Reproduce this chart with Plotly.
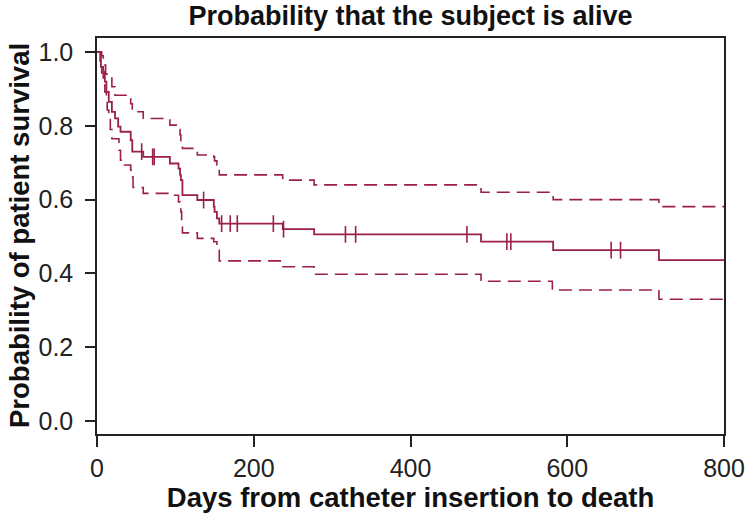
import plotly.graph_objects as go

# Kaplan-Meier estimate (step function)
km_days = [0, 5, 8, 10, 12, 15, 19, 23, 27, 30, 43, 45, 59, 93, 104, 106, 107, 109,
           128, 149, 150, 153, 156, 237, 277, 490, 582, 717, 800]
km_surv = [1.0, 0.96, 0.947, 0.92, 0.892, 0.865, 0.838, 0.82, 0.798, 0.784, 0.761, 0.73,
           0.716, 0.698, 0.684, 0.667, 0.653, 0.612, 0.599, 0.581, 0.567, 0.549, 0.535,
           0.520, 0.506, 0.486, 0.463, 0.436, 0.436]

# Upper confidence limit
up_days = [0, 6, 8, 11, 19, 23, 43, 45, 59, 93, 104, 106, 107, 109, 128, 149, 150, 153,
           156, 237, 277, 490, 582, 717, 800]
up_surv = [1.0, 0.99, 0.965, 0.94, 0.906, 0.883, 0.86, 0.838, 0.82, 0.802, 0.79, 0.775,
           0.76, 0.739, 0.721, 0.716, 0.705, 0.694, 0.667, 0.653, 0.640, 0.620, 0.600,
           0.581, 0.581]

# Lower confidence limit
lo_days = [0, 4, 6, 8, 10, 12, 13, 15, 17, 19, 28, 30, 35, 43, 45, 46, 59, 93, 104, 106,
           107, 108, 109, 128, 149, 153, 156, 237, 277, 490, 581, 717, 800]
lo_surv = [1.0, 0.97, 0.943, 0.92, 0.892, 0.87, 0.843, 0.82, 0.79, 0.765, 0.734, 0.707,
           0.694, 0.68, 0.662, 0.633, 0.617, 0.612, 0.594, 0.581, 0.567, 0.535, 0.51,
           0.495, 0.486, 0.463, 0.434, 0.418, 0.398, 0.379, 0.355, 0.33, 0.33]

# Censored observations (days)
censor_days = [57, 71, 73, 136, 159, 170, 179, 225, 238, 317, 330, 472, 523, 528, 656, 668]

x_ticks = [0, 200, 400, 600, 800]
y_ticks = [0.0, 0.2, 0.4, 0.6, 0.8, 1.0]
y_tick_text = ["0.0", "0.2", "0.4", "0.6", "0.8", "1.0"]


def surv_at(t, days, surv):
    v = surv[0]
    for d, s in zip(days, surv):
        if d <= t:
            v = s
    return v


color = "#9a1f4c"
fig = go.Figure()
fig.add_trace(go.Scatter(x=up_days, y=up_surv, mode="lines", line_shape="hv",
                         line=dict(color=color, width=1.6, dash="13px,7px"),
                         showlegend=False, hoverinfo="skip"))
fig.add_trace(go.Scatter(x=lo_days, y=lo_surv, mode="lines", line_shape="hv",
                         line=dict(color=color, width=1.6, dash="13px,7px"),
                         showlegend=False, hoverinfo="skip"))
fig.add_trace(go.Scatter(x=km_days, y=km_surv, mode="lines", line_shape="hv",
                         line=dict(color=color, width=1.8),
                         showlegend=False))
fig.add_trace(go.Scatter(x=censor_days,
                         y=[surv_at(t, km_days, km_surv) for t in censor_days],
                         mode="markers",
                         marker=dict(symbol="line-ns", size=12,
                                     line=dict(color=color, width=1.6)),
                         showlegend=False))

W, H = 748, 523
L, R, T, B = 97, 24, 38, 89
font_family = "Liberation Sans, Arial, Helvetica, sans-serif"
fig.update_layout(
    width=W, height=H,
    margin=dict(l=L, r=R, t=T, b=B, autoexpand=False),
    paper_bgcolor="white", plot_bgcolor="white",
    font=dict(family=font_family, color="#111"),
    title=dict(text="<b>Probability that the subject is alive</b>",
               x=(L + W - R) / 2 / W, xanchor="center",
               y=1 - 16 / H, yanchor="middle", yref="container",
               font=dict(size=27, color="#111")),
    annotations=[dict(text="<b>Probability of patient survival</b>",
                      xref="paper", yref="paper",
                      x=(19 - L) / (W - L - R), y=0.5,
                      xanchor="center", yanchor="middle", textangle=-90,
                      showarrow=False, font=dict(size=27.5, color="#111"))],
)
fig.update_xaxes(range=[0, 800], tickvals=x_ticks, ticks="outside", ticklen=11,
                 tickwidth=1.5, tickcolor="#222", showline=True, linecolor="#222",
                 linewidth=1.5, mirror=True, showgrid=False, zeroline=False,
                 automargin=False,
                 tickfont=dict(size=25, color="#222"),
                 title=dict(text="<b>Days from catheter insertion to death</b>",
                            font=dict(size=27.5, color="#111"), standoff=3))
fig.update_yaxes(range=[-0.035, 1.038], tickvals=y_ticks, ticktext=y_tick_text,
                 ticks="outside", ticklen=10, tickwidth=1.5, tickcolor="#222",
                 showline=True, linecolor="#222", linewidth=1.5, mirror=True,
                 showgrid=False, zeroline=False, automargin=False,
                 ticklabelstandoff=7,
                 tickfont=dict(size=25, color="#222"))

# remove the default page margin so the figure sits at the window's corner
fig.write_html("out.html",
               config={"displayModeBar": False},
               post_script="document.body.style.margin='0';document.body.style.padding='0';")
